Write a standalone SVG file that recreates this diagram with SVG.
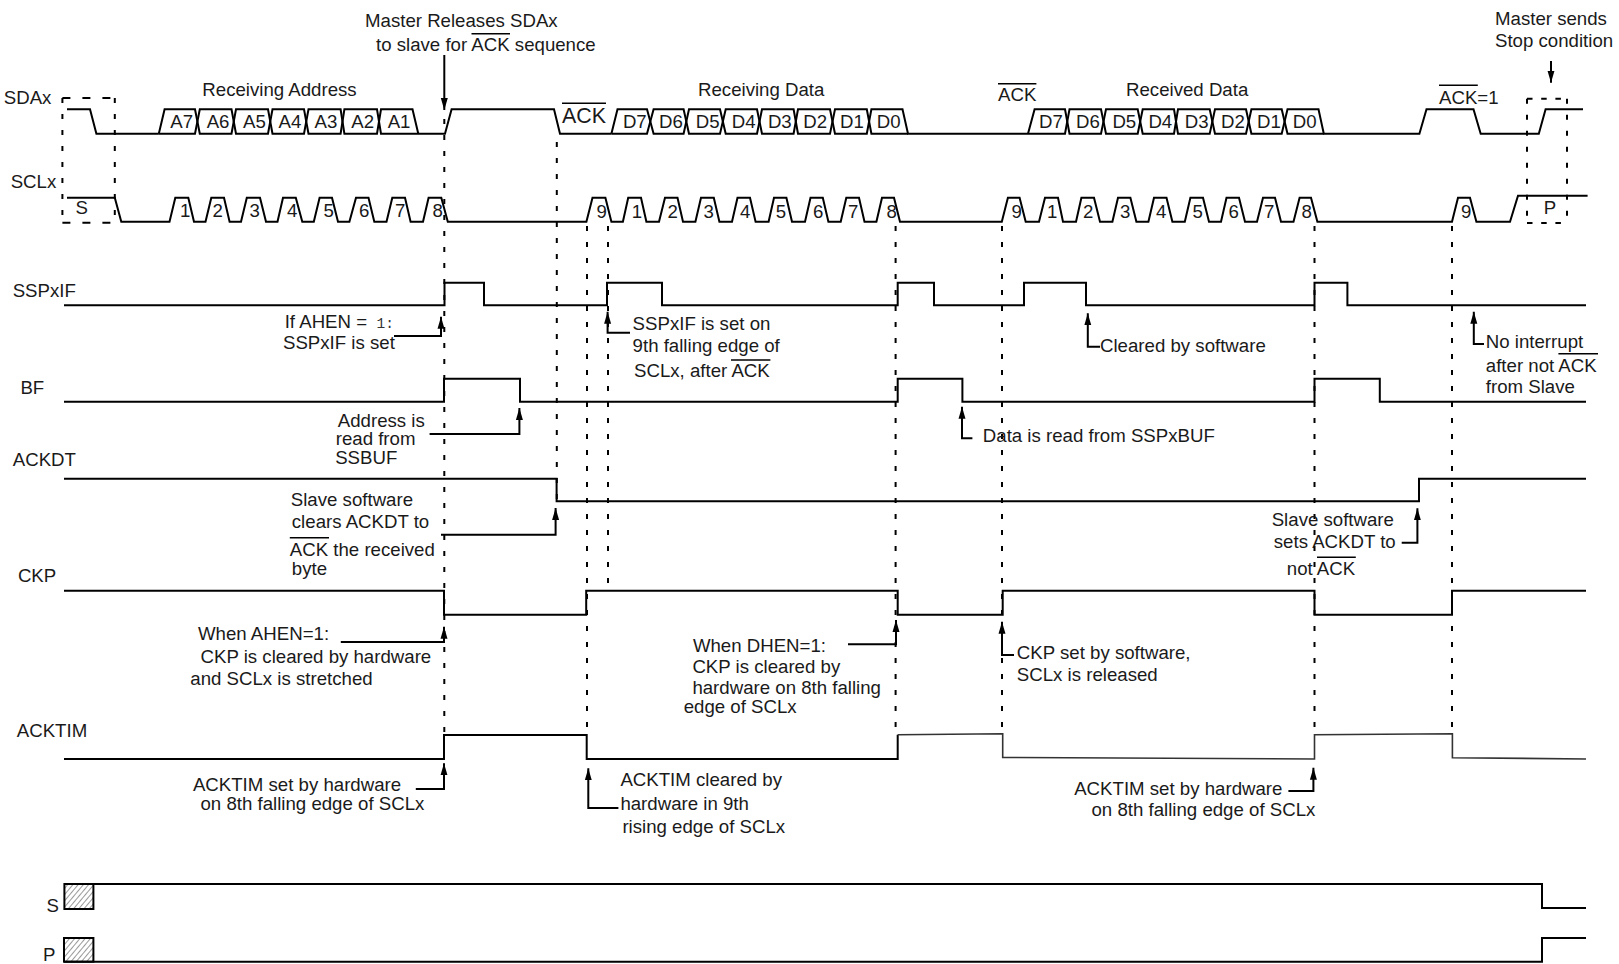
<svg xmlns="http://www.w3.org/2000/svg" width="1619" height="964" viewBox="0 0 1619 964">
<style>
text{font-family:"Liberation Sans",Arial,sans-serif;font-size:18.65px;fill:#1a1a1a}
.s{fill:none;stroke:#000;stroke-width:2}
.t{fill:none;stroke:#333;stroke-width:1.6}
.o{fill:none;stroke:#000;stroke-width:1.6}
.d{fill:none;stroke:#000;stroke-width:2;stroke-dasharray:5 11}
.bl{fill:none;stroke:#000;stroke-width:2;stroke-dasharray:8 12}
.br{fill:none;stroke:#000;stroke-width:2;stroke-dasharray:5.5 8.7}
.a{fill:none;stroke:#000;stroke-width:2;marker-end:url(#arr)}
.m{font-family:"Liberation Mono",monospace;font-size:14.5px;fill:#333}
.l{font-size:21.4px}
.h{fill:url(#hatch);stroke:#000;stroke-width:2}
</style>
<defs>
<marker id="arr" markerUnits="userSpaceOnUse" markerWidth="13" markerHeight="8" refX="12" refY="4" orient="auto"><path d="M0 0.5L12 4L0 7.5Z" fill="#000"/></marker>
<pattern id="hatch" patternUnits="userSpaceOnUse" width="4" height="4" patternTransform="rotate(40)"><rect width="4" height="4" fill="#fff"/><line x1="0" y1="0" x2="0" y2="4" stroke="#333" stroke-width="1"/></pattern>
</defs>

<g id="connectors">
<path class="d" d="M444.3 119V735"/>
<path class="d" d="M556.8 142V500"/>
<path class="d" d="M587 226V735"/>
<path class="d" d="M608 226V590"/>
<path class="d" d="M895.6 226V733"/>
<path class="d" d="M1002 226V733"/>
<path class="d" d="M1314.5 226V733"/>
<path class="d" d="M1452 226V733"/>
<path class="a" d="M444.3 55V110"/>
<path class="a" d="M1551 61V82.7"/>
<path class="a" d="M394 336H441V316.7"/>
<path class="a" d="M630 332.7H607.6V311.7"/>
<path class="a" d="M429.6 434H519.4V408"/>
<path class="a" d="M441 534.7H555.6V508"/>
<path class="a" d="M1100 346.7H1087.8V313.3"/>
<path class="a" d="M1484 344H1473.8V311.7"/>
<path class="a" d="M972.4 438.3H962V406.7"/>
<path class="a" d="M1401.7 542.7H1417.4V508.3"/>
<path class="a" d="M340.8 642H444V626.7"/>
<path class="a" d="M415.8 789H444V763.3"/>
<path class="a" d="M618.4 808H588.3V768.3"/>
<path class="a" d="M848 644.3H896V620"/>
<path class="a" d="M1014 655H1002V621.7"/>
<path class="a" d="M1288.4 791H1313.4V767.7"/>
</g>

<g id="sdax">
<text x="3.8" y="104">SDAx</text>
<path class="bl" d="M62.4 98H114.8"/><path class="bl" d="M62.4 222.7H114.8"/>
<path class="d" d="M62.4 98V222.7"/><path class="d" d="M114.8 98V222.7"/>
<path class="br" d="M1527 98.7H1567"/><path class="br" d="M1527 223H1567"/>
<path class="d" d="M1527 98.7V223"/><path class="d" d="M1567 98.7V223"/>
<path class="s" d="M67 109.3H90L96.4 133.7H158.8"/>
<path class="s" d="M158.8 133.7L164.6 109.3H195L199.8 133.7H231.5L236 109.3H268L272.5 133.7H304L308.5 109.3H340.6L344.4 133.7H377L381 109.3H412.5L418.3 133.7"/>
<path class="s" d="M158.8 133.7H195L199.8 109.3H231.5L236 133.7H268L272.5 109.3H304L308.5 133.7H340.6L344.4 109.3H377L381 133.7H418.3H445L451.6 109.3H554L560 133.7H611.4"/>
<path class="s" d="M611.4 133.7L617.5 109.3H647L653.6 133.7H683.6L689 109.3H720L725.7 133.7H757L762 109.3H793.6L798 133.7H830L835 109.3H866.8L871.4 133.7H908"/>
<path class="s" d="M611.4 133.7H647L653.6 109.3H683.6L689 133.7H720L725.7 109.3H757L762 133.7H793.6L798 109.3H830L835 133.7H866.8L871.4 109.3H902.5L908 133.7H1028"/>
<path class="s" d="M1028 133.7L1034.6 109.3H1065L1069.5 133.7H1101L1106 109.3H1137.7L1142.7 133.7H1174L1178 109.3H1209.7L1215 133.7H1246L1251.4 109.3H1281.7L1287.5 133.7H1323.8"/>
<path class="s" d="M1028 133.7H1065L1069.5 109.3H1101L1106 133.7H1137.7L1142.7 109.3H1174L1178 133.7H1209.7L1215 109.3H1246L1251.4 133.7H1281.7L1287.5 109.3H1318.5L1323.8 133.7H1419.4L1426.5 109.3H1473.5L1480.7 133.7H1538.8L1545.6 109.3H1583"/>
<text x="170.3" y="128">A7</text><text x="206.7" y="128">A6</text><text x="243" y="128">A5</text><text x="278.6" y="128">A4</text><text x="314.6" y="128">A3</text><text x="351.3" y="128">A2</text><text x="387.7" y="128">A1</text>
<text x="622.9" y="128">D7</text><text x="659" y="128">D6</text><text x="695.7" y="128">D5</text><text x="731.8" y="128">D4</text><text x="767.9" y="128">D3</text><text x="803.2" y="128">D2</text><text x="840" y="128">D1</text><text x="876.8" y="128">D0</text>
<text x="1039" y="128">D7</text><text x="1076" y="128">D6</text><text x="1112.4" y="128">D5</text><text x="1148.4" y="128">D4</text><text x="1184.8" y="128">D3</text><text x="1221" y="128">D2</text><text x="1257" y="128">D1</text><text x="1292.8" y="128">D0</text>
</g>

<g id="sclx">
<text x="10.7" y="188.3">SCLx</text>
<path class="s" d="M67 197.7H114.8L121.3 221.7H169.5L175.3 197.7H188.3L194 221.7H205.5L211.3 197.7H224L229.6 221.7H241L246.8 197.7H260L266 221.7H277.5L283 197.7H295.8L302.3 221.7H313.8L319.6 197.7H332L338 221.7H349.4L356 197.7H368.5L374.3 221.7H386.5L392.3 197.7H405L410.6 221.7H423L428.6 197.7H441.3L447.8 221.7H586.4L592.5 197.7H605.4L611.4 221.7H622.9L628.2 197.7H641L646.4 221.7H659L665 197.7H677.5L683 221.7H695.4L701 197.7H713.8L719.4 221.7H732L737.5 197.7H750L755.6 221.7H768.6L774 197.7H786.4L792 221.7H805L810.5 197.7H822.8L828.4 221.7H840.7L846.3 197.7H859L864.5 221.7H876.4L882 197.7H894L900 221.7H1001.8L1007.9 197.7H1019.6L1025.7 221.7H1039L1045 197.7H1058L1063 221.7H1076L1081.4 197.7H1094L1100 221.7H1112.4L1118 197.7H1130.4L1136.4 221.7H1148.4L1154 197.7H1166.5L1172.4 221.7H1184.8L1190.4 197.7H1203L1209 221.7H1221L1226.5 197.7H1239L1245 221.7H1257L1263 197.7H1275L1281 221.7H1293.5L1299.6 197.7H1311L1317.4 221.7H1452L1458 197.7H1470L1476.4 221.7H1510L1518 195.7H1587.6"/>
<text x="75.4" y="214">S</text><text x="1543.8" y="214">P</text>
<text x="180" y="217">1</text><text x="212.5" y="217">2</text><text x="249.5" y="217">3</text><text x="287" y="217">4</text><text x="323.4" y="217">5</text><text x="359" y="217">6</text><text x="395" y="217">7</text><text x="432.4" y="217">8</text>
<text x="596.4" y="217.7">9</text><text x="631.8" y="217.7">1</text><text x="667.5" y="217.7">2</text><text x="703.6" y="217.7">3</text><text x="740" y="217.7">4</text><text x="775.7" y="217.7">5</text><text x="813" y="217.7">6</text><text x="848" y="217.7">7</text><text x="886.4" y="217.7">8</text>
<text x="1011.4" y="217.7">9</text><text x="1047" y="217.7">1</text><text x="1083" y="218.3">2</text><text x="1120" y="218.3">3</text><text x="1156" y="218.3">4</text><text x="1192.6" y="218.3">5</text><text x="1228.6" y="218.3">6</text><text x="1264" y="218.3">7</text><text x="1301.4" y="218.3">8</text><text x="1461" y="218.3">9</text>
</g>

<g id="sspxif">
<text x="12.7" y="296.7">SSPxIF</text>
<path class="s" d="M64 305.3H444.5V282.7H484V305.3H607V282.7H662V305.3H897.7V282.7H934V305.3H1024V282.7H1086V305.3H1314.5V282.7H1347.4V305.3H1586"/>
</g>
<g id="bf">
<text x="20.4" y="394">BF</text>
<path class="s" d="M64 401.7H444V378.7H520V401.7H897.7V378.7H962.4V401.7H1314.5V378.7H1379.8V401.7H1586"/>
</g>
<g id="ackdt">
<text x="12.8" y="465.7">ACKDT</text>
<path class="s" d="M64 478.7H556.6V501.3H1419V478.7H1586"/>
</g>
<g id="ckp">
<text x="17.9" y="581.7">CKP</text>
<path class="s" d="M64 590.7H444V614.7H586.2V590.7H897.7V614.7H1002.7V590.7H1314.5V614.7H1452V590.7H1586"/>
</g>
<g id="acktim">
<text x="16.8" y="736.7">ACKTIM</text>
<path class="s" d="M64 759H444V735H586.7V759H897.7V734.7"/>
<path class="t" d="M897.7 734.7L1002.7 733.7V757.5L1314.5 759V734.7L1452.4 733.7V757.7L1586 759"/>
</g>
<g id="s-line">
<text x="46.5" y="911.7">S</text>
<rect class="h" x="64.4" y="884" width="29" height="25"/>
<path class="s" d="M64.4 884H1542V908H1586"/>
</g>
<g id="p-line">
<text x="43" y="960.7">P</text>
<rect class="h" x="64" y="938" width="29.4" height="23.7"/>
<path class="s" d="M64 961.7H1542V938H1586"/>
</g>

<g id="note-master-releases">
<text x="365" y="26.7">Master Releases SDAx</text>
<text x="376" y="51">to slave for ACK sequence</text>
<path class="o" d="M471.5 33.7H510"/>
</g>
<g id="note-phases">
<text x="202.3" y="96">Receiving Address</text>
<text x="698" y="96">Receiving Data</text>
<text x="1126" y="96">Received Data</text>
<text class="l" x="562" y="122.7">ACK</text><path class="o" d="M562 103.2H606"/>
<text x="998" y="100.7">ACK</text><path class="o" d="M998 83.7H1036.4"/>
<text x="1439" y="104">ACK=1</text><path class="o" d="M1439 85.3H1477.8"/>
</g>
<g id="note-master-sends">
<text x="1495" y="25">Master sends</text>
<text x="1495" y="46.7">Stop condition</text>
</g>
<g id="note-ahen-if">
<text x="284.7" y="327.7">If AHEN = </text><text class="m" x="376.5" y="327.7">1:</text>
<text x="283" y="349">SSPxIF is set</text>
</g>
<g id="note-sspxif-set">
<text x="632.6" y="330">SSPxIF is set on</text>
<text x="632.6" y="352.3">9th falling edge of</text>
<text x="634" y="376.7">SCLx, after ACK</text><path class="o" d="M731 360H770.4"/>
</g>
<g id="note-cleared"><text x="1100" y="352.3">Cleared by software</text></g>
<g id="note-no-interrupt">
<text x="1485.8" y="348.3">No interrupt</text>
<text x="1485.8" y="371.7">after not ACK</text><path class="o" d="M1558.4 353.7H1598"/>
<text x="1485.8" y="393.3">from Slave</text>
</g>
<g id="note-address">
<text x="337.8" y="426.7">Address is</text>
<text x="335.7" y="445">read from</text>
<text x="335.2" y="464.3">SSBUF</text>
</g>
<g id="note-data-read"><text x="982.8" y="442.3">Data is read from SSPxBUF</text></g>
<g id="note-slave-clears">
<text x="290.8" y="505.7">Slave software</text>
<text x="291.8" y="527.7">clears ACKDT to</text>
<text x="289.8" y="556">ACK the received</text><path class="o" d="M289.8 537.7H329"/>
<text x="291.8" y="575">byte</text>
</g>
<g id="note-slave-sets">
<text x="1271.7" y="526">Slave software</text>
<text x="1273.8" y="548.3">sets ACKDT to</text>
<text x="1286.8" y="575">not ACK</text><path class="o" d="M1317 557.3H1355.8"/>
</g>
<g id="note-when-ahen">
<text x="198" y="640">When AHEN=1:</text>
<text x="200.5" y="663.3">CKP is cleared by hardware</text>
<text x="190.3" y="685">and SCLx is stretched</text>
</g>
<g id="note-when-dhen">
<text x="692.9" y="651.7">When DHEN=1:</text>
<text x="692.4" y="672.7">CKP is cleared by</text>
<text x="692.4" y="694">hardware on 8th falling</text>
<text x="683.7" y="712.7">edge of SCLx</text>
</g>
<g id="note-ckp-set">
<text x="1016.8" y="659.3">CKP set by software,</text>
<text x="1016.8" y="681">SCLx is released</text>
</g>
<g id="note-acktim-set-1">
<text x="192.9" y="790.7">ACKTIM set by hardware</text>
<text x="200.5" y="810">on 8th falling edge of SCLx</text>
</g>
<g id="note-acktim-cleared">
<text x="620.4" y="786">ACKTIM cleared by</text>
<text x="620.4" y="810">hardware in 9th</text>
<text x="622.4" y="832.7">rising edge of SCLx</text>
</g>
<g id="note-acktim-set-2">
<text x="1074.2" y="795">ACKTIM set by hardware</text>
<text x="1091.5" y="816">on 8th falling edge of SCLx</text>
</g>
</svg>
